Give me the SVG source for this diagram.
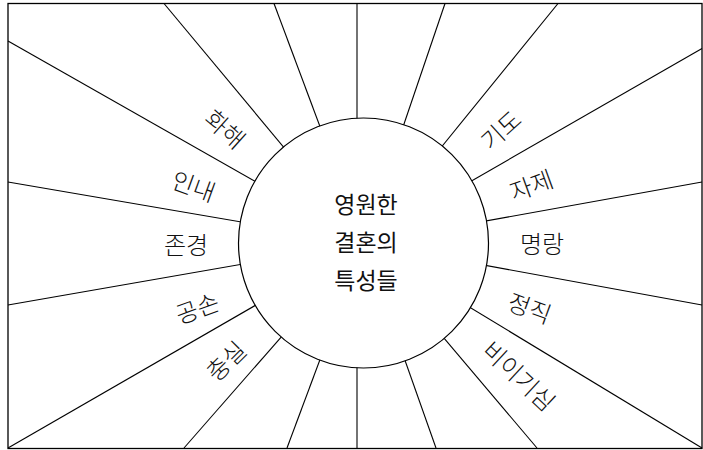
<svg xmlns="http://www.w3.org/2000/svg" width="703" height="450" viewBox="0 0 703 450">
<style>
.ray{stroke:#000;stroke-width:1.1;fill:none}
.lbl{font-family:"Noto Sans CJK KR","Noto Sans",sans-serif;font-size:24px;font-weight:300;fill:#111;text-anchor:middle;dominant-baseline:central}
.ctr{font-family:"Noto Sans CJK KR","Noto Sans",sans-serif;font-size:23px;fill:#111;text-anchor:middle;dominant-baseline:central}
</style>
<rect x="0" y="0" width="703" height="450" fill="#fff"/>
<rect id="frame" x="8" y="3.5" width="694" height="445" fill="none" stroke="#000" stroke-width="1.3"/>
<g id="connectors">
<line class="ray" x1="357" y1="3.5" x2="357" y2="243"/>
<line class="ray" x1="274" y1="3.5" x2="363.5" y2="243"/>
<line class="ray" x1="164" y1="3.5" x2="363.5" y2="243"/>
<line class="ray" x1="8" y1="41" x2="363.5" y2="243"/>
<line class="ray" x1="8" y1="182" x2="363.5" y2="243"/>
<line class="ray" x1="8" y1="305" x2="363.5" y2="243"/>
<line class="ray" x1="8" y1="448" x2="363.5" y2="243"/>
<line class="ray" x1="184" y1="448" x2="363.5" y2="243"/>
<line class="ray" x1="287" y1="448" x2="363.5" y2="243"/>
<line class="ray" x1="357" y1="448" x2="357" y2="243"/>
<line class="ray" x1="436" y1="448" x2="363.5" y2="243"/>
<line class="ray" x1="537" y1="448" x2="363.5" y2="243"/>
<line class="ray" x1="702" y1="448" x2="363.5" y2="243"/>
<line class="ray" x1="702" y1="305" x2="363.5" y2="243"/>
<line class="ray" x1="702" y1="182" x2="363.5" y2="243"/>
<line class="ray" x1="702" y1="48.5" x2="363.5" y2="243"/>
<line class="ray" x1="558" y1="3.5" x2="363.5" y2="243"/>
<line class="ray" x1="445" y1="3.5" x2="363.5" y2="243"/>
</g>
<g id="center">
<circle cx="363.5" cy="243" r="125" fill="#fff" stroke="#000" stroke-width="1.2"/>
<text class="ctr" x="366" y="203">영원한</text>
<text class="ctr" x="366" y="241">결혼의</text>
<text class="ctr" x="366" y="279">특성들</text>
</g>
<g id="n-hwahae"><text class="lbl" transform="translate(226,128) rotate(42)">화해</text></g>
<g id="n-innae"><text class="lbl" transform="translate(194,185) rotate(20)">인내</text></g>
<g id="n-jongyeong"><text class="lbl" x="186" y="243">존경</text></g>
<g id="n-gongson"><text class="lbl" transform="translate(197,307) rotate(-20)">공손</text></g>
<g id="n-chungsil"><text class="lbl" transform="translate(225,360) rotate(-45)">충실</text></g>
<g id="n-gido"><text class="lbl" transform="translate(500,129) rotate(-42)">기도</text></g>
<g id="n-jaje"><text class="lbl" transform="translate(531,184) rotate(-20)">자제</text></g>
<g id="n-myeongrang"><text class="lbl" x="542" y="242">명랑</text></g>
<g id="n-jeongjik"><text class="lbl" transform="translate(530,307) rotate(20)">정직</text></g>
<g id="n-biigisim"><text class="lbl" transform="translate(520,375) rotate(43)">비이기심</text></g>
</svg>
